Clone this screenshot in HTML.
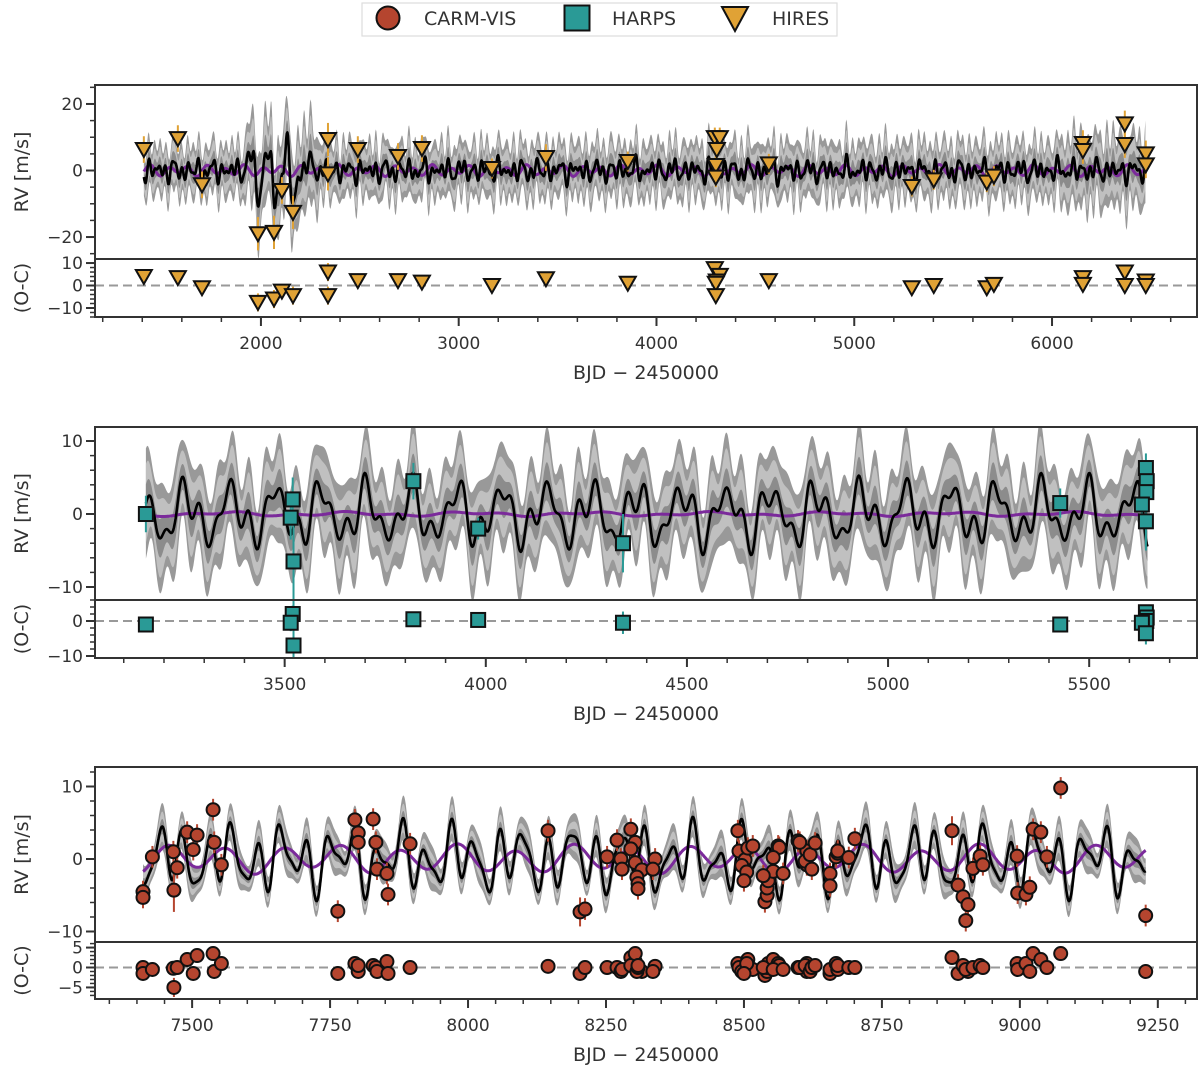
<!DOCTYPE html>
<html><head><meta charset="utf-8"><style>
html,body{margin:0;padding:0;background:#fff;}
svg{display:block;font-family:"DejaVu Sans","Liberation Sans",sans-serif;}
</style></head><body>
<svg id="fig" width="1200" height="1072" viewBox="0 0 1200 1072" xmlns="http://www.w3.org/2000/svg">
<g>
<rect x="362" y="3" width="475" height="33" fill="#fff" stroke="#ddd" stroke-width="1.2"/>
<g><circle cx="388" cy="18" r="11.5" fill="#b5452f" stroke="#111" stroke-width="2"/><text x="424" y="25" font-size="19" fill="#333">CARM-VIS</text></g>
<g><rect x="564.5" y="5.5" width="25" height="25" fill="#2a9a96" stroke="#111" stroke-width="2"/><text x="612" y="25" font-size="19" fill="#333">HARPS</text></g>
<g><polygon points="722,7 748,7 735,31" fill="#e0a235" stroke="#111" stroke-width="2"/><text x="772" y="25" font-size="19" fill="#333">HIRES</text></g>
</g>
</svg>
<script>
// ---------------- DATA ----------------
const hiresT=[1408,1580,1702,1985,2066,2106,2162,2339,2339,2490,2693,2814,3168,3441,3855,4295,4320,4305,4300,4300,4568,5291,5402,5670,5706,6156,6156,6368,6368,6474,6474];
const hiresRV=[6.3,9.6,-4.3,-19,-18.6,-6,-12.6,9.3,-1,6.3,4.2,6.6,0.6,3.9,2.7,9.9,9.9,6.3,1.5,-2,2,-4.8,-2.8,-3.5,-1.7,8.1,6,14,7.8,5,1.7];
const hiresRes=[4,3.5,-1,-7.5,-6,-2.5,-4.5,6,-4.5,2.2,2.2,1.5,0,3,1,7.5,4.5,2,1,-4.5,2.2,-1,0,-1,0.5,3.5,0.5,6,0,2,0];
const hiresErr=[4,4,4,5,5,4,5,5,5,4,4,4,3,4,3,3,3,3,3,3,3,3,3,3,3,4,4,4,4,4,4];

const harpsT=[3155,3520,3515,3522,3820,3981,4341,5428,5641,5643,5642,5631,5641];
const harpsRV=[0,2,-0.5,-6.5,4.5,-2,-4,1.5,6.3,4.5,3,1.3,-1];
const harpsRes=[-1,2,-0.5,-7,0.5,0.3,-0.5,-1,2.5,1,0,-0.5,-3.5];
const harpsErr=[2.5,3,3,7,2.5,1.5,4,2,2,2,2,2,4];

const carmT=[7411,7411,7428,7466,7467,7473,7491,7502,7509,7538,7540,7553,7764,7795,7801,7801,7828,7833,7835,7853,7855,7895,8145,8203,8212,8252,8270,8277,8279,8295,8303,8295,8303,8315,8306,8308,8308,8339,8335,8489,8491,8502,8507,8516,8496,8505,8500,8538,8542,8542,8544,8553,8535,8562,8564,8553,8571,8598,8614,8614,8601,8611,8620,8623,8629,8656,8656,8667,8670,8670,8690,8701,8877,8888,8897,8906,8902,8915,8928,8933,8995,8996,9011,9018,9024,9038,9049,9074,9228];
const carmRV=[-4.5,-5.3,0.3,1,-4.3,-1.2,3.7,1.3,3.3,6.8,2.3,-0.8,-7.2,5.4,3.6,2.3,5.5,2.3,-1.4,-2,-4.9,2.1,3.9,-7.3,-6.9,0.3,2.6,0,-1.4,4.1,2.3,1.4,-0.5,-1.5,-2.5,-3.4,-4.1,0,-1.4,3.9,1.1,-0.1,1.5,1.8,-0.9,-1.8,-3,-5.9,-5,-4,-3,-1.7,-2.3,1.8,1.6,0.2,-2,2.5,1.1,-0.8,2.3,-0.3,0.6,-1.4,2.2,-2,-3.7,0.3,0.8,1.1,0.2,2.8,3.9,-3.6,-5.2,-6.3,-8.5,-1.3,0.4,-0.8,0.4,-4.7,-4.9,-3.9,4.1,3.7,0.3,9.8,-7.8];
const carmRes=[0,-1.5,-0.5,-0.2,-5,0,2,-1.5,3,3.5,-1,1,-1.5,1,-1,0.5,0.5,0,-1,1.5,-1.5,0,0.3,-1.5,0,0,0,-1,-0.5,2.5,1.5,0.5,3.5,-1,-1,0,0.5,0.3,-1,1,0,-1,2,-0.5,-1,1,-1.5,-2,-1,0,1,2,0,1,0.5,-0.5,-0.5,0,1,-1,0,0.5,-1,0,0.5,-1.5,-0.5,1,-0.5,0.5,0,0,2.5,-1.5,0.5,-1,-0.5,0,0.5,0,1,-0.5,1,-1,3.5,2,0,3.5,-1];
const carmErr=[1.5,1.5,1.5,1.5,3,1.5,1.5,1.5,1.5,1.5,1.5,1.5,1.5,1.5,1.5,1.5,1.5,1.5,1.5,1.5,1.5,1.5,1.5,2,1.5,1.5,1.5,1.5,1.5,1.5,1.5,1.5,1.5,1.5,1.5,1.5,1.5,1.5,1.5,1.5,1.5,1.5,1.5,1.5,1.5,1.5,1.5,1.5,1.5,1.5,1.5,1.5,1.5,1.5,1.5,1.5,1.5,1.5,1.5,1.5,1.5,1.5,1.5,1.5,1.5,1.5,1.5,1.5,1.5,1.5,1.5,1.5,2,1.5,1.5,1.5,1.5,1.5,1.5,1.5,1.5,1.5,1.5,1.5,1.5,1.5,1.5,1.5,1.5];

// model parameters (periods in days, semi-amplitudes m/s, phases rad)
const m1Periods=[28,41,63,97];
const m1Amps=[1.2,1.6,1.3,1.0];
const m1Phases=[0.3,1.7,2.9,0.8];
const m1GpT=[1400,1900,1960,1990,2030,2050,2070,2090,2110,2135,2162,2190,2230,2300];
const m1GpV=[0,0,4,-9,7,2,-11,-4,1,7,-10,-2,2,0];
const m1SigT=[1400,1900,1960,2250,2320,6000,6100,6480];
const m1SigV=[0.85,0.9,1.5,1.5,0.95,1,1.25,1.25];
const p1Periods=[95,160];
const p1Amps=[1.2,0.6];
const p1Phases=[0.5,2.0];

const m2Periods=[112,41,58];
const m2Amps=[3.0,1.7,1.1];
const m2Phases=[1.2,0.4,2.6];
const p2Periods=[300,130];
const p2Amps=[0.2,0.15];
const p2Phases=[0.4,1.1];

const m3Periods=[44,29,105];
const m3Amps=[3.0,1.4,1.6];
const m3Phases=[0.9,2.3,1.5];
const p3Periods=[105,240];
const p3Amps=[1.6,0.5];
const p3Phases=[1.5,0.2];

const ticks1X=[2000,3000,4000,5000,6000];
const ticks2X=[3500,4000,4500,5000,5500];
const ticks3X=[7500,7750,8000,8250,8500,8750,9000,9250];

// ---------------- DRAW ----------------
const NS="http://www.w3.org/2000/svg";
const svg=document.getElementById('fig');
function mk(tag,attrs,parent){const e=document.createElementNS(NS,tag);for(const k in attrs)e.setAttribute(k,attrs[k]);(parent||svg).appendChild(e);return e;}
function sines(t,P,A,Ph){let s=0;for(let i=0;i<P.length;i++)s+=A[i]*Math.sin(2*Math.PI*t/P[i]+Ph[i]);return s;}
function interp(ts,vs,t){if(t<=ts[0])return vs[0];if(t>=ts[ts.length-1])return vs[vs.length-1];for(let i=0;i<ts.length-1;i++){if(t>=ts[i]&&t<=ts[i+1]){const f=(t-ts[i])/(ts[i+1]-ts[i]);const g=(1-Math.cos(Math.PI*f))/2;return vs[i]*(1-g)+vs[i+1]*g;}}return 0;}

const X0=95,X1=1197;
function drawPanel(c){
  const g=mk('g',{});
  
  
  const sx=t=>X0+(t-c.xd[0])/(c.xd[1]-c.xd[0])*(X1-X0);
  const sy=v=>c.rt+(c.rd[1]-v)/(c.rd[1]-c.rd[0])*(c.rb-c.rt);
  const sr=v=>c.rb+(c.ed[1]-v)/(c.ed[1]-c.ed[0])*(c.eb-c.rb);
  const clip=mk('clipPath',{id:c.name+'-clip'},g);
  mk('rect',{x:X0,y:c.rt,width:X1-X0,height:c.rb-c.rt},clip);
  const clip2=mk('clipPath',{id:c.name+'-clip2'},g);
  mk('rect',{x:X0,y:c.rb,width:X1-X0,height:c.eb-c.rb},clip2);
  const ts=[],bl=[],pu=[],sg=[];
  for(let t=c.m0;t<=c.m1;t+=c.step){ts.push(t);bl.push(c.black(t));pu.push(c.purple(t));sg.push(c.sig(t));}
  const area=(k,col,nm)=>{let up='',dn='';for(let i=0;i<ts.length;i++)up+=(i?'L':'M')+sx(ts[i]).toFixed(1)+','+sy(bl[i]+k*sg[i]).toFixed(1);for(let i=ts.length-1;i>=0;i--)dn+='L'+sx(ts[i]).toFixed(1)+','+sy(bl[i]-k*sg[i]).toFixed(1);const p=mk('path',{d:up+dn+'Z',fill:col,'clip-path':'url(#'+c.name+'-clip)'},g);};
  area(c.bw[2],'#999999','band-3sigma');
  area(c.bw[1],'#c0c0c0','band-2sigma');
  area(c.bw[0],'#8c8c8c','band-1sigma');
  let dp='',db='';
  for(let i=0;i<ts.length;i++){dp+=(i?'L':'M')+sx(ts[i]).toFixed(1)+','+sy(pu[i]).toFixed(1);db+=(i?'L':'M')+sx(ts[i]).toFixed(1)+','+sy(bl[i]).toFixed(1);}
  const pl=mk('path',{d:dp,fill:'none',stroke:'#7b2a9b','stroke-width':3,'clip-path':'url(#'+c.name+'-clip)'},g);
  
  
  const bline=mk('path',{d:db,fill:'none',stroke:'#000','stroke-width':2.6,'stroke-linejoin':'round','clip-path':'url(#'+c.name+'-clip)'},g);
  
  
  const zl=mk('line',{x1:X0,x2:X1,y1:sr(0),y2:sr(0),stroke:'#999','stroke-width':2,'stroke-dasharray':'9,5'},g);
  
  
  const marker=(x,y,parent)=>{let e;
    if(c.mk==='tri')e=mk('polygon',{points:(x-8)+','+(y-6.5)+' '+(x+8)+','+(y-6.5)+' '+x+','+(y+7.5),fill:c.col,stroke:'#111','stroke-width':2},parent);
    else if(c.mk==='sq')e=mk('rect',{x:x-7,y:y-7,width:14,height:14,fill:c.col,stroke:'#111','stroke-width':2},parent);
    else e=mk('circle',{cx:x,cy:y,r:6.5,fill:c.col,stroke:'#111','stroke-width':2},parent);
    return e;};
  for(let i=0;i<c.T.length;i++){
    const x=sx(c.T[i]);
    const eb=mk('line',{x1:x,x2:x,y1:sy(c.V[i]-c.E[i]),y2:sy(c.V[i]+c.E[i]),stroke:c.ecol,'stroke-width':2},g);
    
    
    const er=mk('line',{x1:x,x2:x,y1:sr(c.R[i]-c.E[i]*0.8),y2:sr(c.R[i]+c.E[i]*0.8),stroke:c.ecol,'stroke-width':2,'clip-path':'url(#'+c.name+'-clip2)'},g);
    
    
  }
  for(let i=0;i<c.T.length;i++){
    const x=sx(c.T[i]);
    const m=marker(x,sy(c.V[i]),g);
    
    
    const r=marker(x,sr(c.R[i]),g);
    
    
  }
  const f1=mk('rect',{x:X0,y:c.rt,width:X1-X0,height:c.rb-c.rt,fill:'none',stroke:'#333','stroke-width':2},g);
  
  
  const f2=mk('rect',{x:X0,y:c.rb,width:X1-X0,height:c.eb-c.rb,fill:'none',stroke:'#333','stroke-width':2},g);
  
  
  for(let t=c.xmin0;t<=c.xd[1];t+=c.xminor){const x=sx(t);mk('line',{x1:x,x2:x,y1:c.eb,y2:c.eb+5,stroke:'#333','stroke-width':1.5},g);}
  for(const t of c.xt){const x=sx(t);mk('line',{x1:x,x2:x,y1:c.eb,y2:c.eb+9,stroke:'#333','stroke-width':2},g);
    const tl=mk('text',{x:x,y:c.eb+32,'font-size':17,'text-anchor':'middle',fill:'#333'},g);tl.textContent=t;
    
    }
  const xt=mk('text',{x:646,y:c.eb+62,'font-size':19,'text-anchor':'middle',fill:'#333'},g);
  xt.textContent='BJD \u2212 2450000';
  
  
  const yt=(lab,minor,map,lo,hi,lo2)=>{
    for(let v=lo2;v<=hi+1e-6;v+=minor){const y=map(v);if(y<Math.min(map(hi),map(lo))-0.5||y>Math.max(map(hi),map(lo))+0.5)continue;mk('line',{x1:X0-5,x2:X0,y1:y,y2:y,stroke:'#333','stroke-width':1.5},g);}
    for(const v of lab){const y=map(v);mk('line',{x1:X0-9,x2:X0,y1:y,y2:y,stroke:'#333','stroke-width':2},g);
      const l=mk('text',{x:X0-12,y:y+6,'font-size':17,'text-anchor':'end',fill:'#333'},g);l.textContent=(v<0?'\u2212'+(-v):v);
      
      }
  };
  yt(c.ry,c.rminor,sy,c.rd[0],c.rd[1],c.rmin0);
  yt(c.ey,c.eminor,sr,c.ed[0],c.ed[1],c.emin0);
  const yl=mk('text',{x:0,y:0,'font-size':19,'text-anchor':'middle',fill:'#333',transform:'translate(28,'+((c.rt+c.rb)/2)+') rotate(-90)'},g);
  yl.textContent='RV [m/s]';
  
  
  const el=mk('text',{x:0,y:0,'font-size':19,'text-anchor':'middle',fill:'#333',transform:'translate(28,'+((c.rb+c.eb)/2)+') rotate(-90)'},g);
  el.textContent='(O-C)';
  
  
}

drawPanel({name:'hires-panel',xd:[1161,6733],rt:85,rb:259,eb:317,rd:[-26.6,25.7],ed:[-14,11.8],
  T:hiresT,V:hiresRV,R:hiresRes,E:hiresErr,mk:'tri',col:'#e0a235',ecol:'#e0a235',
  m0:1408,m1:6474,step:3,
  black:t=>sines(t,m1Periods,m1Amps,m1Phases)+interp(m1GpT,m1GpV,t),
  purple:t=>sines(t,p1Periods,p1Amps,p1Phases),
  sig:t=>interp(m1SigT,m1SigV,t)*(1+0.25*Math.sin(2*Math.PI*t/33)),
  bw:[3,6,8.5],xt:ticks1X,xmin0:1200,xminor:200,ry:[-20,0,20],rminor:5,rmin0:-25,ey:[-10,0,10],eminor:2,emin0:-14});

drawPanel({name:'harps-panel',xd:[3028.5,5768],rt:427,rb:600,eb:658,rd:[-11.78,11.92],ed:[-10.57,6],
  T:harpsT,V:harpsRV,R:harpsRes,E:harpsErr,mk:'sq',col:'#2a9a96',ecol:'#2a9a96',
  m0:3155,m1:5645,step:2,
  black:t=>sines(t,m2Periods,m2Amps,m2Phases),
  purple:t=>sines(t,p2Periods,p2Amps,p2Phases),
  sig:t=>1+0.2*Math.sin(2*Math.PI*t/37),
  bw:[2.2,4.5,6.3],xt:ticks2X,xmin0:3100,xminor:100,ry:[-10,0,10],rminor:2,rmin0:-10,ey:[-10,0],eminor:2,emin0:-10});

drawPanel({name:'carm-vis-panel',xd:[7324,9321],rt:767,rb:942,eb:999,rd:[-11.45,12.69],ed:[-7.9,6.4],
  T:carmT,V:carmRV,R:carmRes,E:carmErr,mk:'circ',col:'#b5452f',ecol:'#b5452f',
  m0:7411,m1:9228,step:1,
  black:t=>sines(t,m3Periods,m3Amps,m3Phases),
  purple:t=>sines(t,p3Periods,p3Amps,p3Phases),
  sig:t=>1+0.3*Math.sin(2*Math.PI*t/44),
  bw:[0.8,1.6,2.5],xt:ticks3X,xmin0:7350,xminor:50,ry:[-10,0,10],rminor:2,rmin0:-10,ey:[-5,0,5],eminor:1,emin0:-7});
</script>
</body></html>
